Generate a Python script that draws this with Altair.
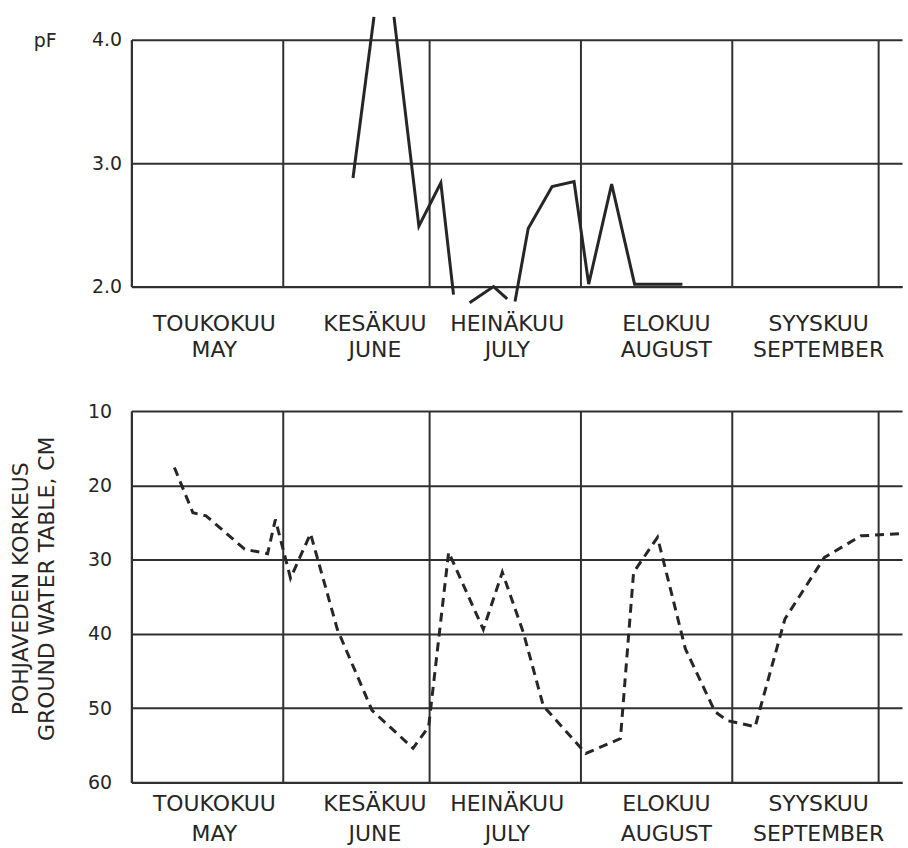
import altair as alt
import pandas as pd

# ---- data (x = days counted from 1 May) ----
# pF curve, drawn in separate pieces where it leaves the scale
pf_day = [45.4, 49.7, 53.8, 58.9, 63.4, 66.0, 69.3, 74.2, 77.0,
          78.6, 81.3, 86.2, 90.7, 93.7, 98.4, 103.1, 112.9]
pf_val = [2.88, 4.185, 4.185, 2.49, 2.84, 1.935, 1.87, 2.00, 1.90,
          1.88, 2.47, 2.81, 2.85, 2.02, 2.83, 2.02, 2.02]
pf_seg = [1, 1, 2, 2, 2, 2, 3, 3, 3, 4, 4, 4, 4, 4, 4, 4, 4]

# ground water table, cm
gw_day = [8.8, 12.6, 15.3, 23.2, 27.9, 29.5, 32.6, 36.7, 42.2, 49.3, 57.7,
          60.9, 65.0, 72.1, 76.0, 80.3, 84.4, 93.1, 100.2, 102.9, 107.8,
          113.5, 119.6, 122.2, 127.8, 133.9, 142.0, 149.5, 157.9]
gw_cm = [17.6, 23.7, 24.1, 28.6, 29.2, 24.6, 32.5, 26.5, 39.4, 50.3, 55.4,
         52.5, 29.0, 39.4, 31.7, 39.8, 49.7, 56.1, 54.1, 31.7, 27.0,
         42.0, 50.5, 51.7, 52.5, 38.0, 29.7, 26.8, 26.5]

month_fi = ["TOUKOKUU", "KESÄKUU", "HEINÄKUU", "ELOKUU", "SYYSKUU"]
month_en = ["MAY", "JUNE", "JULY", "AUGUST", "SEPTEMBER"]
label_day = [17.0, 49.9, 77.0, 109.6, 140.8]
month_start = [0, 31, 61, 92, 123, 153]

pf_ticks = [2, 3, 4]
gw_ticks = [10, 20, 30, 40, 50, 60]

pf_df = pd.DataFrame({"day": pf_day, "pf": pf_val, "seg": pf_seg})
gw_df = pd.DataFrame({"day": gw_day, "cm": gw_cm})
lab_df = pd.DataFrame({"day": label_day,
                       "txt": [f + "\n" + e for f, e in zip(month_fi, month_en)]})

FONT = "DejaVu Sans"
INK = "#262626"
W = 774
H1 = 248
H2 = 373

xscale = alt.Scale(domain=[0, 157.9], nice=False, zero=False)
xaxis = alt.Axis(values=month_start, grid=True, labels=False, ticks=False,
                 domain=True, title=None)

# ---- top panel: pF ----
pf_line = alt.Chart(pf_df).mark_line(color=INK, strokeWidth=3, clip=False,
                                     strokeJoin="miter").encode(
    x=alt.X("day:Q", scale=xscale, axis=xaxis),
    y=alt.Y("pf:Q", scale=alt.Scale(domain=[2, 4], nice=False, zero=False),
            axis=alt.Axis(values=pf_ticks, format=".1f", grid=True, ticks=False,
                          labelPadding=10, title="pF", titleAngle=0,
                          titleX=-87, titleY=1, titleAlign="center",
                          titleBaseline="middle", titleFontSize=19)),
    detail="seg:N",
)
top_labels = alt.Chart(lab_df).mark_text(
    lineBreak="\n", baseline="top", align="center", font=FONT, fontSize=22,
    color=INK, lineHeight=26, clip=False,
).encode(x=alt.X("day:Q", scale=xscale), y=alt.value(H1 + 28), text="txt:N")

top = alt.layer(pf_line, top_labels).properties(width=W, height=H1)

# ---- bottom panel: ground water table ----
gw_line = alt.Chart(gw_df).mark_line(color=INK, strokeWidth=3, strokeDash=[9, 6],
                                     clip=False).encode(
    x=alt.X("day:Q", scale=xscale, axis=xaxis),
    y=alt.Y("cm:Q", scale=alt.Scale(domain=[10, 60], reverse=True, nice=False, zero=False),
            axis=alt.Axis(values=gw_ticks, format="d", grid=True, ticks=False,
                          labelPadding=20,
                          title=["POHJAVEDEN KORKEUS", "GROUND WATER TABLE, CM"],
                          titleAngle=270, titleX=-111, titleY=178,
                          titleAlign="center", titleBaseline="middle",
                          titleLineHeight=26, titleFontSize=22)),
)
bot_labels = alt.Chart(lab_df).mark_text(
    lineBreak="\n", baseline="top", align="center", font=FONT, fontSize=22,
    color=INK, lineHeight=30, clip=False,
).encode(x=alt.X("day:Q", scale=xscale), y=alt.value(H2 + 12), text="txt:N")

bottom = alt.layer(gw_line, bot_labels).properties(width=W, height=H2)

chart = alt.vconcat(top, bottom, spacing=125, bounds="flush").properties(
    padding={"left": 10, "top": 9, "right": 0, "bottom": 0},
    background="white",
).configure_view(stroke=None).configure_axis(
    labelFont=FONT, labelFontSize=19, labelColor=INK,
    titleFont=FONT, titleColor=INK, titleFontWeight="normal",
    gridColor="#303030", gridWidth=2, gridOpacity=1,
    domainColor="#303030", domainWidth=2.2,
)

chart.save("out.html", embed_options={"renderer": "svg", "actions": False})
